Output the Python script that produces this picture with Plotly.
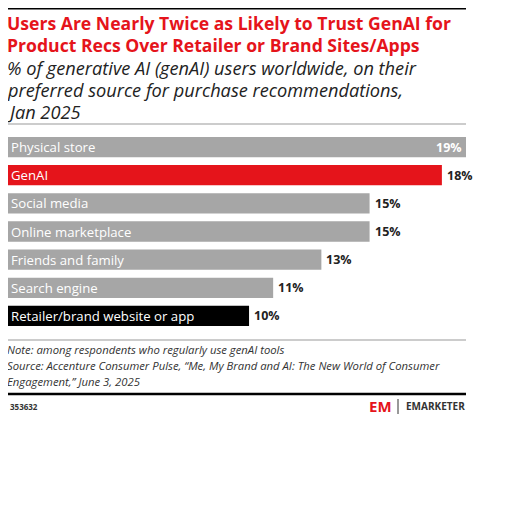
import plotly.graph_objects as go

# chart data
categories = ["Physical store", "GenAI", "Social media", "Online marketplace",
              "Friends and family", "Search engine", "Retailer/brand website or app"]
values = [19, 18, 15, 15, 13, 11, 10]
colors = ["#a6a6a6", "#e5141b", "#a6a6a6", "#a6a6a6", "#a6a6a6", "#a6a6a6", "#000000"]

title_lines = ["Users Are Nearly Twice as Likely to Trust GenAI for",
               "Product Recs Over Retailer or Brand Sites/Apps"]
subtitle_lines = ["% of generative AI (genAI) users worldwide, on their",
                  "preferred source for purchase recommendations,",
                  "Jan 2025"]
note_lines = ["Note: among respondents who regularly use genAI tools",
              "Source: Accenture Consumer Pulse, “Me, My Brand and AI: The New World of Consumer",
              "Engagement,” June 3, 2025"]

W, H = 500, 495
OFF = 7  # page body margin compensation
def py(p):  # reference pixel y -> paper y
    return 1 - (p - OFF) / H
def px_(p):
    return (p - OFF) / W

FONT = "Open Sans"
fig = go.Figure(go.Bar(x=values, y=categories, orientation="h",
                       marker=dict(color=colors, line=dict(width=0)),
                       hoverinfo="skip"))

ann = []
for c, v in zip(categories, values):
    ann.append(dict(x=0, y=c, xref="x", yref="y", text=c, showarrow=False,
                    xanchor="left", xshift=1, font=dict(family=FONT, size=13.2, color="white")))
    inside = v == max(values)
    ann.append(dict(x=v, y=c, xref="x", yref="y", text=f"<b>{v}%</b>", showarrow=False,
                    xanchor="right" if inside else "left", xshift=-2 if inside else 3,
                    font=dict(family=FONT, size=12.5, color="white" if inside else "#222")))

def line_ann(txt, y, size, color, style=""):
    t = f"<{style}>{txt}</{style}>" if style else txt
    return dict(x=px_(7), y=py(y), xref="paper", yref="paper", xanchor="left", yanchor="middle",
                showarrow=False, xshift=-2, borderpad=0, text=t,
                font=dict(family=FONT, size=size, color=color))

for i, t in enumerate(title_lines):
    ann.append(line_ann(t, 22 + 22 * i, 17.6, "#e5141b", "b"))
for i, t in enumerate(subtitle_lines):
    ann.append(line_ann(t, 67 + 22 * i, 18.2, "#222", "i"))
for i, t in enumerate(note_lines):
    ann.append(line_ann(t, 348 + 16 * i, 11.3, "#333", "i"))

ann += [
    dict(x=px_(7), y=py(405), xref="paper", yref="paper", xanchor="left", yanchor="middle",
         showarrow=False, text="<b>353632</b>", font=dict(family=FONT, size=8, color="#333")),
    dict(x=px_(393), y=py(405), xref="paper", yref="paper", xanchor="right", yanchor="middle",
         showarrow=False, text="<b>EM</b>", font=dict(family=FONT, size=15, color="#e5141b")),
    dict(x=px_(466), y=py(405), xref="paper", yref="paper", xanchor="right", yanchor="middle",
         showarrow=False, text="<b>EMARKETER</b>", font=dict(family=FONT, size=10, color="#333")),
]

shapes = [
    dict(type="line", xref="paper", yref="paper", x0=px_(7), x1=px_(465), y0=py(7), y1=py(7),
         line=dict(color="black", width=3)),
    dict(type="line", xref="paper", yref="paper", x0=px_(7), x1=px_(465), y0=py(123), y1=py(123),
         line=dict(color="#999", width=1)),
    dict(type="line", xref="paper", yref="paper", x0=px_(7), x1=px_(465), y0=py(339), y1=py(339),
         line=dict(color="#999", width=1)),
    dict(type="line", xref="paper", yref="paper", x0=px_(7), x1=px_(465), y0=py(393), y1=py(393),
         line=dict(color="black", width=2.5)),
    dict(type="line", xref="paper", yref="paper", x0=px_(397), x1=px_(397), y0=py(398), y1=py(413),
         line=dict(color="#333", width=1)),
]

fig.update_layout(
    width=W, height=H, margin=dict(l=0, r=0, t=0, b=0),
    paper_bgcolor="white", plot_bgcolor="white", showlegend=False,
    bargap=0.28, annotations=ann, shapes=shapes,
    xaxis=dict(domain=[px_(7), px_(465)], range=[0, 19], visible=False, fixedrange=True),
    yaxis=dict(domain=[py(329), py(132)], autorange="reversed", visible=False, fixedrange=True),
)

fig.write_html("out.html")
